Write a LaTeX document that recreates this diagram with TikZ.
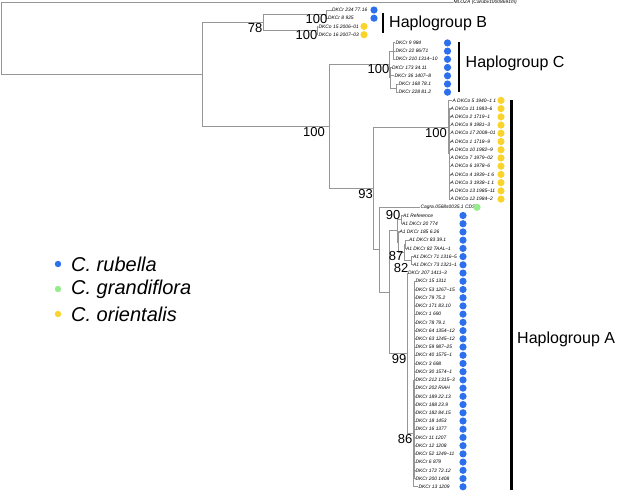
\documentclass[tikz,border=0pt]{standalone}
\usepackage{fontspec}
\setmainfont{Liberation Sans}
\definecolor{treeg}{RGB}{150,150,150}
\definecolor{cblue}{RGB}{45,112,238}
\definecolor{cyel}{RGB}{250,212,45}
\definecolor{cgreen}{RGB}{150,236,140}
\tikzset{
  br/.style={draw=treeg, line width=0.9pt},
  tl/.style={anchor=west, inner sep=0.4pt, font=\fontsize{4.9}{5}\selectfont\itshape},
  bs/.style={anchor=east, inner sep=0pt, font=\fontsize{13}{14}\selectfont},
  hg/.style={anchor=west, inner sep=0pt, font=\fontsize{16}{18}\selectfont},
  lg/.style={anchor=west, inner sep=0pt, font=\fontsize{20}{22}\selectfont\itshape},
  tdot/.style={circle, inner sep=0pt, minimum size=7.2pt},
  bdot/.style={tdot, fill=cblue},
  ydot/.style={tdot, fill=cyel},
  gdot/.style={tdot, fill=cgreen},
  ldot/.style={circle, inner sep=0pt, minimum size=6.4pt},
  hbar/.style={line width=2.5pt, draw=black},
}
\begin{document}
\begin{tikzpicture}[x=1pt,y=-1pt]
\fill[white] (0,0) rectangle (617,491);
\useasboundingbox (0,0) rectangle (617,491);

% internal nodes
\coordinate (root) at (1,38.4);
\coordinate (n202) at (202,74.3);
\coordinate (nB) at (263,22.3);
\coordinate (nB1) at (326.5,14.1);
\coordinate (nB2) at (317,30.5);
\coordinate (nCA) at (329,126.5);
\coordinate (nC) at (389,64.5);
\coordinate (nC1) at (393,51.1);
\coordinate (nC2) at (390.5,77.8);
\coordinate (nC3) at (396,88.1);
\coordinate (n93) at (373,188.4);
\coordinate (nO) at (448,127.1);
\coordinate (nO2) at (449.5,153.8);
\coordinate (nAC) at (379,249.7);
\coordinate (n389) at (389,292.1);
\coordinate (nA1) at (397,230.9);
\coordinate (n90) at (401,219.6);
\coordinate (nBp) at (398.5,242.2);
\coordinate (n87) at (404,252.5);
\coordinate (n83) at (405,244.3);
\coordinate (n82) at (411.5,260.7);
\coordinate (n99) at (407,353.3);
\coordinate (n86) at (413,433.5);
\coordinate (nSub) at (414.5,380.2);

% outgroup
\node[tl] (tM) at (453,2.5) {MLOZA (Carubv10008691m)};

% Haplogroup B tips
\node[tl] (b1) at (331.5,10) {DKCr 234 77.16};
\node[tl] (b2) at (327.5,18.2) {DKCr 8 925};
\node[tl] (b3) at (318,26.4) {DKCo 15 2006--01};
\node[tl] (b4) at (318,34.7) {DKCo 16 2007--03};
\node[bdot] (db1) at (374,10) {};
\node[bdot] (db2) at (374,18.2) {};
\node[ydot] (db3) at (364,26.4) {};
\node[ydot] (db4) at (364,34.7) {};

% Haplogroup C tips
\node[tl] (c1) at (395,42.9) {DKCr 9 984};
\node[tl] (c2) at (395,51.1) {DKCr 22 86/T1};
\node[tl] (c3) at (395,59.3) {DKCr 210 1314--10};
\node[tl] (c4) at (391.5,67.5) {DKCr 173 34.11};
\node[tl] (c5) at (394,75.8) {DKCr 36 1407--8};
\node[tl] (c6) at (398,84) {DKCr 168 78.1};
\node[tl] (c7) at (398,92.2) {DKCr 228 81.2};
\foreach \i/\yy in {1/42.9,2/51.1,3/59.3,4/67.5,5/75.8,6/84,7/92.2}
  \node[bdot] (dc\i) at (447.5,\yy) {};

% orientalis tips
\node[tl] (o11) at (452,100.4) {A DKCo 5 1940--1 1};
\node[ydot] (do11) at (501,100.4) {};
\draw[br] (nO) |- (o11.west);
\foreach \nm [count=\i from 12] in {A DKCo 11 1983--6, A DKCo 2 1719--1, A DKCo 9 1981--3, A DKCo 17 2008--01, A DKCo 1 1718--9, A DKCo 10 1982--9, A DKCo 7 1979--02, A DKCo 6 1978--6, A DKCo 4 1939--1 6, A DKCo 3 1938--1 1, A DKCo 13 1985--11, A DKCo 12 1984--2}{
  \node[tl] (o\i) at (450,{10+8.22*\i}) {\nm};
  \node[ydot] (do\i) at (501,{10+8.22*\i}) {};
  \draw[br] (nO2) |- (o\i.west);
}

% Cagra
\node[tl] (cg) at (420,207.3) {Cagra.0568s0035.1 CDS};
\node[gdot] (dcg) at (477,207.3) {};

% A rubella tips
\node[tl] (a1) at (402.5,215.5) {A1 Reference};
\node[tl] (a2) at (401.5,223.7) {A1 DKCr 20 774};
\node[tl] (a3) at (399,231.9) {A1 DKCr 185 6.26};
\node[tl] (a4) at (408.5,240.2) {A1 DKCr 83 39.1};
\node[tl] (a5) at (405.5,248.4) {A1 DKCr 82 TAAL--1};
\node[tl] (a6) at (412.5,256.6) {A1 DKCr 71 1316--5};
\node[tl] (a7) at (412.5,264.8) {A1 DKCr 73 1321--1};
\node[tl] (a8) at (407.5,273.1) {DKCr 207 1411--3};
\foreach \nm [count=\i from 33] in {DKCr 15 1311, DKCr 53 1267--15, DKCr 79 75.2, DKCr 171 83.10, DKCr 1 690, DKCr 78 79.1, DKCr 64 1354--12, DKCr 63 1245--12, DKCr 59 987--25, DKCr 40 1575--1, DKCr 3 698, DKCr 30 1574--1, DKCr 212 1315--3, DKCr 202 RiAH, DKCr 189 22.13, DKCr 188 23.9, DKCr 182 84.15, DKCr 18 1453, DKCr 16 1377, DKCr 11 1207, DKCr 12 1208, DKCr 52 1249--11, DKCr 6 879, DKCr 172 72.12, DKCr 200 1408}{
  \node[tl] (s\i) at (415,{10+8.22*\i}) {\nm};
  \draw[br] (nSub) |- (s\i.west);
}
\node[tl] (s58) at (418,486.8) {DKCr 13 1209};
\foreach \i in {25,...,58}
  \node[bdot] (da\i) at (463,{10+8.22*\i}) {};

% branches
\draw[br] (root) |- (tM.west);
\draw[br] (root) |- (n202);
\draw[br] (n202) |- (nB);
\draw[br] (n202) |- (nCA);
\draw[br] (nB) |- (nB1);
\draw[br] (nB) |- (nB2);
\draw[br] (nB1) |- (b1.west);
\draw[br] (nB1) |- (b2.west);
\draw[br] (nB2) |- (b3.west);
\draw[br] (nB2) |- (b4.west);
\draw[br] (nCA) |- (nC);
\draw[br] (nCA) |- (n93);
\draw[br] (nC) |- (nC1);
\draw[br] (nC) |- (nC2);
\draw[br] (nC1) |- (c1.west);
\draw[br] (nC1) |- (c2.west);
\draw[br] (nC1) |- (c3.west);
\draw[br] (nC2) |- (c4.west);
\draw[br] (nC2) |- (c5.west);
\draw[br] (nC2) |- (nC3);
\draw[br] (nC3) |- (c6.west);
\draw[br] (nC3) |- (c7.west);
\draw[br] (n93) |- (nO);
\draw[br] (n93) |- (nAC);
\draw[br] (nO) |- (nO2);
\draw[br] (nAC) |- (cg.west);
\draw[br] (nAC) |- (n389);
\draw[br] (n389) |- (nA1);
\draw[br] (n389) |- (n99);
\draw[br] (nA1) |- (n90);
\draw[br] (nA1) |- (nBp);
\draw[br] (n90) |- (a1.west);
\draw[br] (n90) |- (a2.west);
\draw[br] (nBp) |- (a3.west);
\draw[br] (nBp) |- (n87);
\draw[br] (n87) |- (n83);
\draw[br] (n87) |- (n82);
\draw[br] (n83) |- (a4.west);
\draw[br] (n83) |- (a5.west);
\draw[br] (n82) |- (a6.west);
\draw[br] (n82) |- (a7.west);
\draw[br] (n99) |- (a8.west);
\draw[br] (n99) |- (n86);
\draw[br] (n86) |- (nSub);
\draw[br] (n86) |- (s58.west);

% support values
\node[bs] (l78) at (262.5,28.5) {78};
\node[bs] (l100b1) at (327.5,18.6) {100};
\node[bs] (l100b2) at (317.5,35.5) {100};
\node[bs] (l100c) at (389.5,69) {100};
\node[bs] (l100ca) at (325,132.5) {100};
\node[bs] (l100o) at (447,133.5) {100};
\node[bs] (l93) at (373,194.5) {93};
\node[bs] (l90) at (400.5,215) {90};
\node[bs] (l87) at (403.5,255.8) {87};
\node[bs] (l82) at (408.5,267.6) {82};
\node[bs] (l99) at (406.5,359) {99};
\node[bs] (l86) at (412.5,439) {86};

% haplogroup bars
\draw[hbar] (383,13) -- (383,33);
\draw[hbar] (459,42) -- (459,92);
\draw[hbar] (511.5,100) -- (511.5,490);
\node[hg] (hB) at (389,23) {Haplogroup B};
\node[hg] (hC) at (465.5,63) {Haplogroup C};
\node[hg] (hA) at (517,339) {Haplogroup A};

% legend
\node[ldot, fill=cblue] (lgb) at (58,264) {};
\node[ldot, fill=cgreen] (lgg) at (58,289) {};
\node[ldot, fill=cyel] (lgy) at (58,314) {};
\node[lg] (lrub) at (71,264) {C. rubella};
\node[lg] (lgra) at (71,289) {C. grandiflora};
\node[lg] (lori) at (71,314) {C. orientalis};
\end{tikzpicture}
\end{document}
